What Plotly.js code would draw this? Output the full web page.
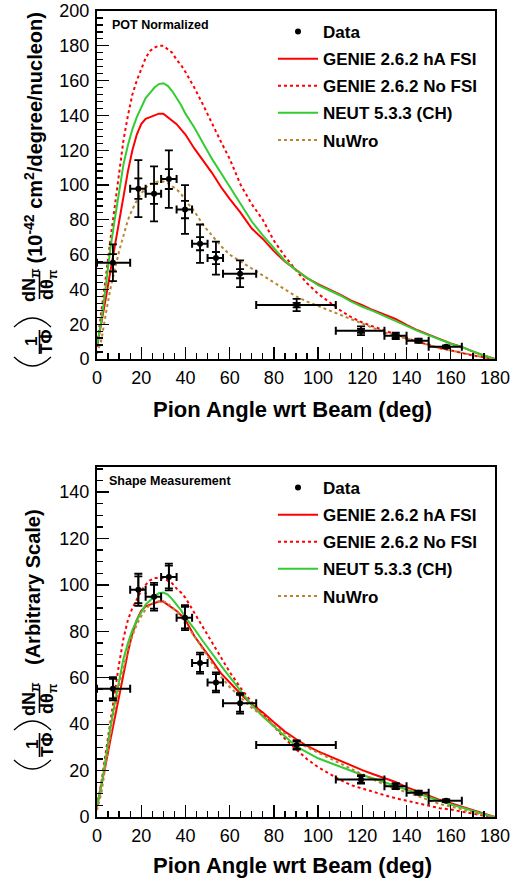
<!DOCTYPE html>
<html>
<head>
<meta charset="utf-8">
<script src="https://cdn.plot.ly/plotly-3.0.1.min.js"></script>
<style>
  html, body { margin: 0; padding: 0; background: white; }
  #graph { width: 514px; height: 881px; }
</style>
</head>
<body>
<div id="graph"></div>
<script>
// pion angle bins (deg) and measured points
var binEdges = [0, 15, 22, 29, 36, 43, 50, 57, 72, 108, 130, 140, 150, 165];
var dataAngle = [7.2, 18.7, 25.8, 32.5, 39.8, 46.6, 53.8, 64.7, 90.3, 119.4, 135.1, 145.4, 157.9];
var dataValue = [55.3, 97.9, 94.9, 103.4, 85.9, 66.3, 58.0, 49.0, 31.0, 16.2, 13.3, 10.5, 7.0];

// errors, POT normalized panel
var potErrTotal = [10.6, 16.4, 15.8, 16.5, 14.0, 11.0, 9.5, 7.7, 3.5, 2.5, 1.8, 1.2, 0.8];
var potErrStat = [5.0, 5.9, 5.8, 5.7, 5.0, 3.8, 3.5, 2.6, 1.3, 1.1, 0.9, 0.7, 0.4];
// errors, shape panel
var shapeErrTotal = [5.0, 6.9, 6.0, 5.8, 5.4, 4.5, 4.3, 4.4, 2.0, 1.8, 1.3, 0.9, 0.6];
var shapeErrStat = [4.2, 5.8, 5.1, 4.9, 4.6, 3.8, 3.6, 3.6, 1.6, 1.4, 1.0, 0.7, 0.5];

// model predictions
var angleGrid = [0, 2, 4, 6, 8, 10, 12, 14, 16, 18, 20, 22, 24, 26, 28, 30, 32, 34, 36, 38,
  40, 44, 48, 52, 56, 60, 65, 70, 75, 80, 85, 90, 95, 100, 105, 110, 115, 120, 125, 130,
  135, 140, 145, 150, 155, 160, 165, 170, 175, 180];

var potHA = [7, 20, 35, 50, 65, 80, 94, 108, 120, 129, 135, 138, 139, 140, 141, 141, 139, 137, 135, 132,
  129, 121, 114, 107, 99, 92, 84, 75, 69, 62, 56, 51, 46.5, 43, 40, 37, 33.5, 31, 28, 25.5,
  23, 19.6, 16.5, 14, 11.3, 9, 7, 4.2, 2, 0];
var potNoFSI = [8, 26, 47, 68, 88, 108, 126, 140, 152, 160, 167, 173, 177, 179, 180, 180, 178, 176, 172, 169,
  165, 156, 146, 135, 125, 115, 100, 89, 80, 68, 59, 51, 43.5, 37.5, 32.5, 28, 24, 21, 18.6, 16.3,
  14, 12, 10, 8, 6.2, 5, 3.5, 2, 1, 0];
var potNEUT = [8, 22, 42, 63, 80, 97, 112, 123, 132, 139, 145, 150, 153, 156, 158, 158.5, 157, 154, 150, 146,
  141, 133, 124, 115, 107, 99, 89, 79, 71, 64, 56.5, 51, 46.5, 42.5, 39.5, 36.5, 33, 30, 27.5, 24.8,
  22, 19, 16.2, 13.6, 11, 8.8, 6.8, 4.2, 2, 0];
var potNuWro = [3, 11, 26, 40, 51, 62, 71, 80, 86, 91, 95, 98.5, 100.5, 101.5, 102, 102, 101, 99.5, 97.5, 95,
  91, 85, 77, 71, 65, 60, 56, 51.5, 48, 43.5, 39.5, 36, 33, 30.5, 28, 25.4, 22.8, 20.2, 17.7, 15.3,
  13.4, 11.9, 10, 8, 6.2, 4.9, 3.5, 2, 0.9, 0];

var shapeHA = [4.6, 13.2, 23, 32.9, 42.8, 52.6, 61.9, 71.1, 79, 84.9, 88.8, 90.8, 91.5, 92.1, 92.8, 92.8, 91.5, 90.1, 88.8, 86.9,
  84.9, 78, 73, 67.5, 62, 58, 53, 48.5, 45, 40.8, 36.8, 33.6, 30.6, 28.3, 26.3, 24.3, 22, 20.2, 18.4, 16.8,
  15.1, 12.9, 10.9, 9.2, 7.4, 5.9, 4.6, 2.8, 1.3, 0];
var shapeNoFSI = [4.6, 15, 28, 41, 53, 66, 77, 85, 90, 94, 97.5, 100, 102, 103, 103, 103, 101.8, 100.7, 98.4, 96.7,
  94.4, 88, 81.5, 75, 68.5, 62.5, 55.5, 49.5, 44.5, 38.9, 33.7, 29.2, 24.9, 21.5, 18.6, 16, 13.7, 12.2, 10.8, 9.4,
  8.1, 7, 5.8, 4.7, 3.8, 3.2, 2.3, 1.3, 0.6, 0];
var shapeNEUT = [4.9, 13.4, 25.6, 38.4, 48.8, 59.2, 68.3, 75, 80.5, 84.8, 88.5, 91.5, 93.3, 95.2, 96.4, 96.7, 95.8, 93.9, 91.5, 89.1,
  86, 81.1, 75.6, 70.2, 65.3, 60.4, 54.3, 48.2, 43.3, 39, 34.5, 30.5, 27.8, 25.3, 23.5, 21.7, 19.8, 18.1, 16.6, 15,
  13.4, 11.6, 9.9, 8.3, 6.7, 5.4, 4.1, 2.6, 1.2, 0];
var shapeNuWro = [3, 10.5, 23, 35, 46, 56, 64.5, 72.5, 78, 83, 86.5, 89.5, 91.5, 92.5, 93, 93, 92, 90.5, 88.7, 86.5,
  83, 78, 72, 66, 60.5, 56, 51.5, 47, 43.7, 39.6, 36, 32.8, 30, 27.8, 25.5, 23.1, 20.7, 18.4, 16.1, 13.9,
  12.2, 10.8, 9.1, 7.3, 5.6, 4.5, 3.2, 1.8, 0.8, 0];

var W = 514, H = 881;
var FONT = 'Liberation Sans, Arial, Helvetica, sans-serif';

// page pixel -> paper coords
function px(x) { return x / W; }
function py(y) { return 1 - y / H; }

// horizontal error bars from the bin edges
var xErrMinus = dataAngle.map(function (a, i) { return a - binEdges[i]; });
var xErrPlus = dataAngle.map(function (a, i) { return binEdges[i + 1] - a; });

var models = [
  {name: 'GENIE 2.6.2 hA FSI', color: '#ff0000', dash: 'solid', pot: potHA, shape: shapeHA},
  {name: 'GENIE 2.6.2 No FSI', color: '#ff0000', dash: '3px,3px', pot: potNoFSI, shape: shapeNoFSI},
  {name: 'NEUT 5.3.3 (CH)', color: '#33cc33', dash: 'solid', pot: potNEUT, shape: shapeNEUT},
  {name: 'NuWro', color: '#b8862e', dash: '3px,3px', pot: potNuWro, shape: shapeNuWro}
];

var traces = [];

function addPanel(key, xa, ya, leg, errTotal, errStat) {
  models.forEach(function (m, i) {
    traces.push({
      type: 'scatter', mode: 'lines',
      x: angleGrid, y: m[key],
      xaxis: xa, yaxis: ya,
      name: m.name, legend: leg, legendgroup: leg + i, legendrank: i + 2,
      line: {color: m.color, width: 2, dash: m.dash}
    });
  });
  // stat errors (inner caps)
  traces.push({
    type: 'scatter', mode: 'markers',
    x: dataAngle, y: dataValue, xaxis: xa, yaxis: ya,
    showlegend: false, hoverinfo: 'skip',
    marker: {size: 1, color: 'black'},
    error_y: {type: 'data', array: errStat, color: 'black', thickness: 1.8, width: 4}
  });
  // total errors and bin widths
  traces.push({
    type: 'scatter', mode: 'markers',
    x: dataAngle, y: dataValue, xaxis: xa, yaxis: ya,
    name: 'Data', legend: leg, legendgroup: leg + 'data', legendrank: 1,
    marker: {size: 6, color: 'black'},
    error_y: {type: 'data', array: errTotal, color: 'black', thickness: 1.8, width: 4},
    error_x: {type: 'data', symmetric: false, array: xErrPlus, arrayminus: xErrMinus,
              color: 'black', thickness: 2, width: 4}
  });
}

addPanel('pot', 'x', 'y', 'legend', potErrTotal, potErrStat);
addPanel('shape', 'x2', 'y2', 'legend2', shapeErrTotal, shapeErrStat);

function xAxis(anchor) {
  return {
    domain: [px(97), px(495)], anchor: anchor,
    range: [0, 180], dtick: 20, tick0: 0,
    showline: true, mirror: true, linecolor: 'black', linewidth: 2,
    ticks: 'inside', ticklen: 12, tickwidth: 1.3, tickcolor: 'black',
    minor: {dtick: 5, ticks: 'inside', ticklen: 6, tickwidth: 1.3, tickcolor: 'black'},
    showgrid: false, zeroline: false,
    ticklabelstandoff: 1,
    tickfont: {family: FONT, size: 18, color: 'black'}
  };
}
function yAxis(top, bottom, ymax, minorStep, anchor) {
  return {
    domain: [py(bottom), py(top)], anchor: anchor,
    range: [0, ymax], dtick: 20, tick0: 0,
    showline: true, mirror: true, linecolor: 'black', linewidth: 2,
    ticks: 'inside', ticklen: 12, tickwidth: 1.3, tickcolor: 'black',
    minor: {dtick: minorStep, ticks: 'inside', ticklen: 6, tickwidth: 1.3, tickcolor: 'black'},
    showgrid: false, zeroline: false,
    ticklabelstandoff: 2,
    tickfont: {family: FONT, size: 18, color: 'black'}
  };
}

function legendBox(topY) {
  return {
    x: px(273), y: py(topY), xanchor: 'left', yanchor: 'top',
    bgcolor: 'rgba(0,0,0,0)', borderwidth: 0,
    font: {family: FONT, size: 17, color: 'black', weight: 'bold'},
    itemwidth: 40, traceorder: 'grouped', tracegroupgap: 2
  };
}

var annotations = [];
var shapes = [];

function boldText(text, x, y, size, opts) {
  var a = {
    xref: 'paper', yref: 'paper', x: px(x), y: py(y),
    text: text, showarrow: false,
    xanchor: 'center', yanchor: 'middle',
    font: {family: FONT, size: size, color: 'black', weight: 'bold'}
  };
  for (var k in opts) a[k] = opts[k];
  annotations.push(a);
}

function line(x0, y0, x1, y1, w) {
  shapes.push({type: 'line', xref: 'paper', yref: 'paper',
    x0: px(x0), y0: py(y0), x1: px(x1), y1: py(y1),
    line: {color: 'black', width: w}});
}
function arc(xa, xb, yEnd, yCtrl) {
  var p = 'M' + px(xa) + ',' + py(yEnd) + ' Q' + px((xa + xb) / 2) + ',' + py(yCtrl) +
          ' ' + px(xb) + ',' + py(yEnd);
  shapes.push({type: 'path', xref: 'paper', yref: 'paper', path: p,
    line: {color: 'black', width: 1.3}});
}

// y title: (1/T Phi) dN/dtheta + unit text, rotated
function yTitle(fracY, dnY, unitText, unitBottom) {
  arc(14, 51, fracY + 15, fracY + 33);
  arc(14, 51, fracY - 15, fracY - 33);
  boldText('1', 32, fracY, 17, {textangle: -90});
  boldText('TΦ', 47, fracY, 17, {textangle: -90});
  line(39.5, fracY - 12, 39.5, fracY + 12, 1.6);
  boldText('dN<sub>π</sub>', 30, dnY, 18, {textangle: -90});
  boldText('dθ<sub>π</sub>', 48, dnY, 18, {textangle: -90});
  line(39.5, dnY - 14, 39.5, dnY + 14, 1.6);
  boldText(unitText, 33, unitBottom, 20, {textangle: -90, yanchor: 'bottom'});
}

yTitle(342, 285, '(10<sup>-42</sup> cm<sup>2</sup>/degree/nucleon)', 266);
yTitle(745, 699, '(Arbitrary Scale)', 667);

boldText('Pion Angle wrt Beam (deg)', 292, 409, 22);
boldText('Pion Angle wrt Beam (deg)', 292, 865, 22);
boldText('POT Normalized', 110, 25, 12.5, {xanchor: 'left'});
boldText('Shape Measurement', 107, 481, 12.5, {xanchor: 'left'});

var layout = {
  width: W, height: H,
  margin: {l: 0, r: 0, t: 0, b: 0},
  paper_bgcolor: 'white', plot_bgcolor: 'white',
  font: {family: FONT, color: 'black'},
  xaxis: xAxis('y'),
  yaxis: yAxis(11, 359, 200, 4, 'x'),
  xaxis2: xAxis('y2'),
  yaxis2: yAxis(467, 817, 150.8, 5, 'x2'),
  legend: legendBox(14),
  legend2: legendBox(470),
  annotations: annotations,
  shapes: shapes
};

Plotly.newPlot('graph', traces, layout, {displayModeBar: false, staticPlot: true});
</script>
</body>
</html>
